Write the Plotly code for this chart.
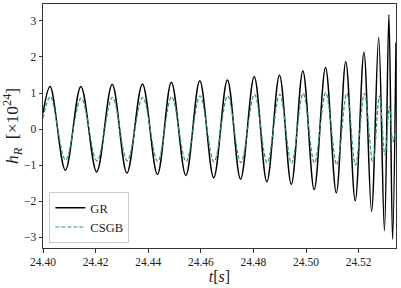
import plotly.graph_objects as go

# ---- data (times in s, strain in units of 1e-24) ----
t_start = 24.400
t_end = 24.5342

gr_start = 0.44
gr_end = 2.40
gr_peak_t = [24.4027, 24.4144, 24.4263, 24.4378, 24.4488, 24.4596, 24.4701, 24.4803,
             24.4899, 24.4988, 24.5074, 24.5151, 24.5220, 24.5276, 24.5315]
gr_peak_h = [1.18, 1.18, 1.24, 1.25, 1.30, 1.34, 1.36, 1.45,
             1.49, 1.61, 1.71, 1.87, 2.13, 2.54, 3.17]
gr_trough_t = [24.4085, 24.4204, 24.4319, 24.4435, 24.4543, 24.4649, 24.4751, 24.4851,
               24.4944, 24.5031, 24.5115, 24.5187, 24.5249, 24.5298, 24.5329]
gr_trough_h = [-1.14, -1.19, -1.22, -1.26, -1.29, -1.35, -1.39, -1.46,
               -1.53, -1.68, -1.77, -1.99, -2.28, -2.82, -3.06]

cs_start = 0.30
cs_end = 0.0
cs_peak_t = [24.4028, 24.4145, 24.4264, 24.4379, 24.4489, 24.4597, 24.4702, 24.4804,
             24.4900, 24.4989, 24.5075, 24.5155, 24.5222, 24.5279, 24.5317]
cs_peak_h = [0.90, 0.86, 0.88, 0.88, 0.90, 0.92, 0.92, 0.96,
             0.96, 0.99, 1.01, 1.00, 0.99, 0.92, 0.62]
cs_trough_t = [24.4086, 24.4205, 24.4320, 24.4436, 24.4544, 24.4650, 24.4752, 24.4852,
               24.4945, 24.5032, 24.5117, 24.5188, 24.5254, 24.5300, 24.5330]
cs_trough_h = [-0.86, -0.88, -0.88, -0.90, -0.90, -0.91, -0.93, -0.93,
               -0.95, -0.94, -0.99, -1.00, -0.94, -0.72, -0.35]

x_ticks = [24.40, 24.42, 24.44, 24.46, 24.48, 24.50, 24.52]
y_ticks = [-3, -2, -1, 0, 1, 2, 3]


def build(start_h, end_h, pt, ph, tt, th):
    pts = [(t_start, start_h)] + list(zip(pt, ph)) + list(zip(tt, th)) + [(t_end, end_h)]
    pts.sort(key=lambda p: p[0])
    return [p[0] for p in pts], [p[1] for p in pts]


gx, gy = build(gr_start, gr_end, gr_peak_t, gr_peak_h, gr_trough_t, gr_trough_h)
cx, cy = build(cs_start, cs_end, cs_peak_t, cs_peak_h, cs_trough_t, cs_trough_h)

fig = go.Figure()
fig.add_trace(go.Scatter(x=gx, y=gy, mode="lines", name="GR",
                         line=dict(color="#000000", width=1.5, shape="spline", smoothing=1.0)))
fig.add_trace(go.Scatter(x=cx, y=cy, mode="lines", name="CSGB",
                         line=dict(color="#2a9a68", width=1.2, dash="4px,2px",
                                   shape="spline", smoothing=1.0)))

font_family = "Liberation Serif"
fig.update_layout(
    width=401, height=288,
    margin=dict(l=43, r=4.5, t=4, b=40, autoexpand=False),
    paper_bgcolor="white", plot_bgcolor="white",
    font=dict(family=font_family, size=11, color="#222"),
    showlegend=True,
    legend=dict(x=0.018, y=0.02, xanchor="left", yanchor="bottom",
                bgcolor="rgba(255,255,255,0.9)", bordercolor="#cccccc", borderwidth=1,
                font=dict(size=12.5, family=font_family, color="#222"),
                tracegroupgap=0, itemwidth=30),
)
fig.update_xaxes(range=[t_start, t_end], tickvals=x_ticks, tickformat=".2f",
                 showgrid=False, zeroline=False, showline=True, linecolor="#333",
                 linewidth=1, mirror=True, ticks="outside", ticklen=3.5, tickcolor="#333",
                 tickfont=dict(size=11.5), automargin=False,
                 title=dict(text="<i>t</i>[<i>s</i>]", font=dict(size=16), standoff=3))
fig.update_yaxes(range=[-3.3, 3.47], tickvals=y_ticks,
                 showgrid=False, zeroline=False, showline=True, linecolor="#333",
                 linewidth=1, mirror=True, ticks="outside", ticklen=3.5, tickcolor="#333",
                 tickfont=dict(size=11.5), automargin=False,
                 title=dict(text="<i>h</i><sub><i>R</i></sub>  [×10<sup>24</sup>]",
                            font=dict(size=17.5), standoff=4))

fig.write_html(
    "out.html",
    config={"displayModeBar": False},
    post_script="document.body.style.margin='0';document.body.style.padding='0';"
                "document.body.style.overflow='hidden';",
)
